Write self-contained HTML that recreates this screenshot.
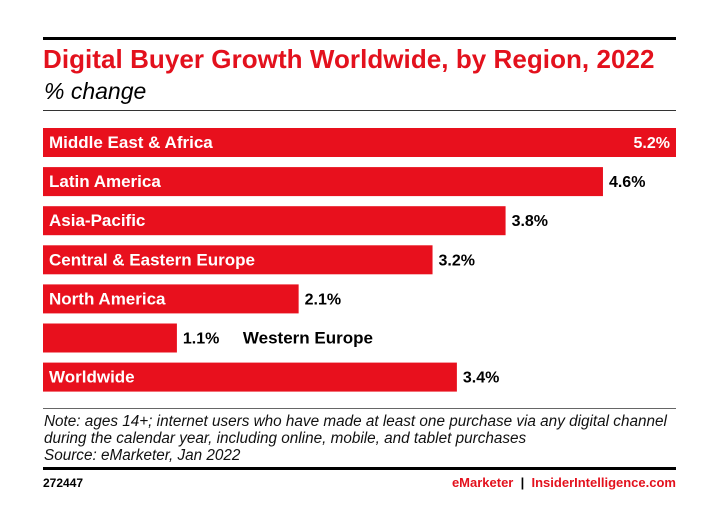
<!DOCTYPE html>
<html><head><meta charset="utf-8"><style>
body{margin:0;background:#fff;width:727px;height:525px;overflow:hidden;font-family:"Liberation Sans",sans-serif;position:relative}
.a{position:absolute}
</style></head><body>
<div class="a" style="left:43px;top:37px;width:633px;height:3px;background:#000"></div>
<div class="a" style="left:43px;top:44px;font-size:26px;font-weight:bold;color:#e3111d;letter-spacing:0.05px;white-space:nowrap">Digital Buyer Growth Worldwide, by Region, 2022</div>
<div class="a" style="left:44px;top:78px;font-size:23px;font-style:italic;color:#000">% change</div>
<div class="a" style="left:43px;top:110px;width:633px;height:1px;background:#333"></div>
<svg class="a" style="left:0;top:0" width="727" height="525" id="chart"></svg>
<div class="a" style="left:43px;top:408px;width:633px;height:1px;background:#666"></div>
<div class="a" style="left:44px;top:413px;font-size:15.3px;font-style:italic;line-height:17px;color:#111;white-space:nowrap">Note: ages 14+; internet users who have made at least one purchase via any digital channel<br>during the calendar year, including online, mobile, and tablet purchases<br>Source: eMarketer, Jan 2022</div>
<div class="a" style="left:43px;top:467px;width:633px;height:3px;background:#000"></div>
<div class="a" style="left:43px;top:476px;font-size:12px;font-weight:bold">272447</div>
<div class="a" style="right:51px;top:475px;font-size:13px;font-weight:bold;white-space:nowrap"><span style="color:#e3111d">eMarketer</span> <span style="color:#000">&nbsp;|&nbsp;</span> <span style="color:#e3111d">InsiderIntelligence.com</span></div>
<script>
const categories=["Middle East & Africa","Latin America","Asia-Pacific","Central & Eastern Europe","North America","Western Europe","Worldwide"];
const values=[5.2,4.6,3.8,3.2,2.1,1.1,3.4];
const labels=["5.2%","4.6%","3.8%","3.2%","2.1%","1.1%","3.4%"];
const svg=document.getElementById('chart');
const NS='http://www.w3.org/2000/svg';
const x0=43,maxW=633,maxV=5.2;
const xs=v=>v/maxV*maxW;
const y=i=>128+i*39.1;
categories.forEach((c,i)=>{
  const w=xs(values[i]);
  const r=document.createElementNS(NS,'rect');
  r.setAttribute('x',x0);r.setAttribute('y',y(i));r.setAttribute('width',w);r.setAttribute('height',29);r.setAttribute('fill','#e8101d');
  
  
  svg.appendChild(r);
  const t=document.createElementNS(NS,'text');
  t.setAttribute('y',y(i)+20);t.setAttribute('font-size','17');t.setAttribute('font-weight','bold');
  t.textContent=c;
  const inside=w>200;
  const v=document.createElementNS(NS,'text');
  v.setAttribute('y',y(i)+20);v.setAttribute('font-size','16');v.setAttribute('font-weight','bold');
  v.textContent=labels[i];
  if(w>maxW-5){v.setAttribute('x',x0+w-6);v.setAttribute('text-anchor','end');v.setAttribute('fill','#fff');}
  else{v.setAttribute('x',x0+w+6);v.setAttribute('fill','#000');}
  if(inside){t.setAttribute('x',x0+6);t.setAttribute('fill','#fff');}
  else{t.setAttribute('x',x0+w+66);t.setAttribute('fill','#000');}
  
  
  
  
  svg.appendChild(t);svg.appendChild(v);
});
</script>
</body></html>
